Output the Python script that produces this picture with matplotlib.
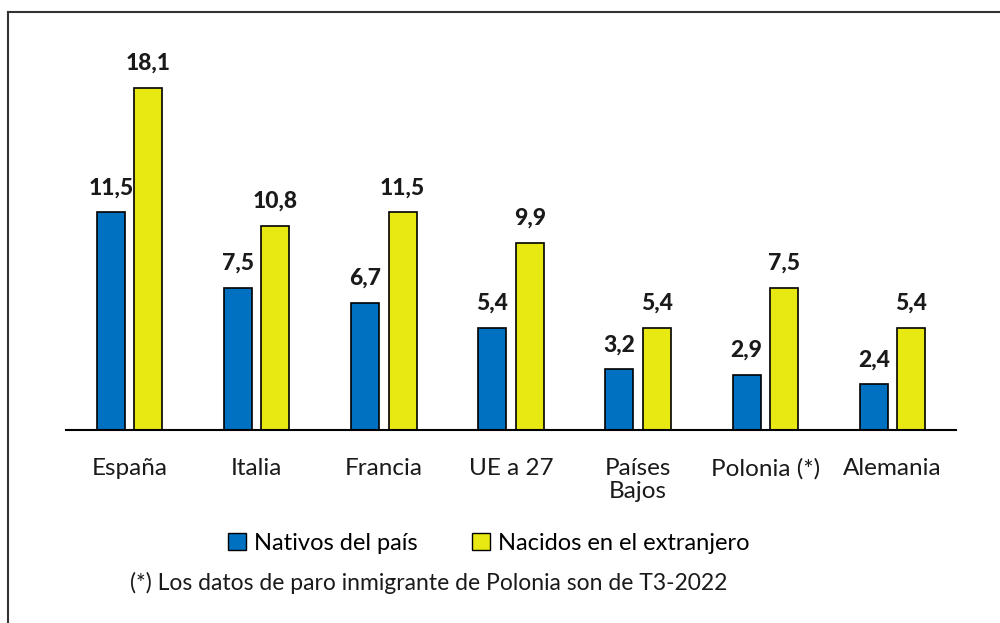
import matplotlib.pyplot as plt
import numpy as np
from matplotlib.lines import Line2D
from matplotlib.patches import Patch

paises = ["España", "Italia", "Francia", "UE a 27", "Países\nBajos", "Polonia (*)", "Alemania"]
nativos = [11.5, 7.5, 6.7, 5.4, 3.2, 2.9, 2.4]
extranjeros = [18.1, 10.8, 11.5, 9.9, 5.4, 7.5, 5.4]

AZUL = "#0070C0"
AMARILLO = "#E8E812"
TEXTO = "#1a1a1a"

plt.rcParams["font.family"] = ["Lato", "DejaVu Sans"]

fig = plt.figure(figsize=(10, 6.23), dpi=100)
ax = fig.add_axes([0.066, 0.31, 0.89, 0.607])

x = np.arange(len(paises))
w = 0.22
b1 = ax.bar(x - 0.147, nativos, w, color=AZUL, edgecolor="black", linewidth=1.2)
b2 = ax.bar(x + 0.147, extranjeros, w, color=AMARILLO, edgecolor="black", linewidth=1.2)

for bars, vals in [(b1, nativos), (b2, extranjeros)]:
    for r, v in zip(bars, vals):
        ax.text(r.get_x() + r.get_width() / 2, v + 0.75, f"{v:.1f}".replace(".", ","),
                ha="center", va="bottom", fontsize=16.5, fontweight="black", color=TEXTO)

ax.set_xlim(-0.5, len(paises) - 0.5)
ax.set_ylim(0, 20)
ax.set_yticks([])
ax.set_xticks(x)
ax.set_xticklabels(paises, fontsize=17.5, color=TEXTO, linespacing=1.15)
ax.tick_params(axis="x", length=0, pad=20)
for s in ["top", "right", "left"]:
    ax.spines[s].set_visible(False)
ax.spines["bottom"].set_linewidth(1.5)

handles = [Patch(facecolor=AZUL, edgecolor="black"), Patch(facecolor=AMARILLO, edgecolor="black")]
fig.legend(handles, ["Nativos del país", "Nacidos en el extranjero"], loc="center",
           bbox_to_anchor=(0.489, 0.128), ncol=2, frameon=False, fontsize=17,
           handlelength=0.75, handleheight=0.75, handletextpad=0.35, columnspacing=2.3)

fig.text(0.13, 0.064, "(*) Los datos de paro inmigrante de Polonia son de T3-2022",
         fontsize=16.5, color=TEXTO, va="center")

# marco
fig.add_artist(Line2D([0.008, 1.0], [0.981, 0.981], color="#333333", lw=1.5))
fig.add_artist(Line2D([0.008, 0.008], [0.0, 0.981], color="#333333", lw=1.5))

fig.savefig("out.png", dpi=100)
